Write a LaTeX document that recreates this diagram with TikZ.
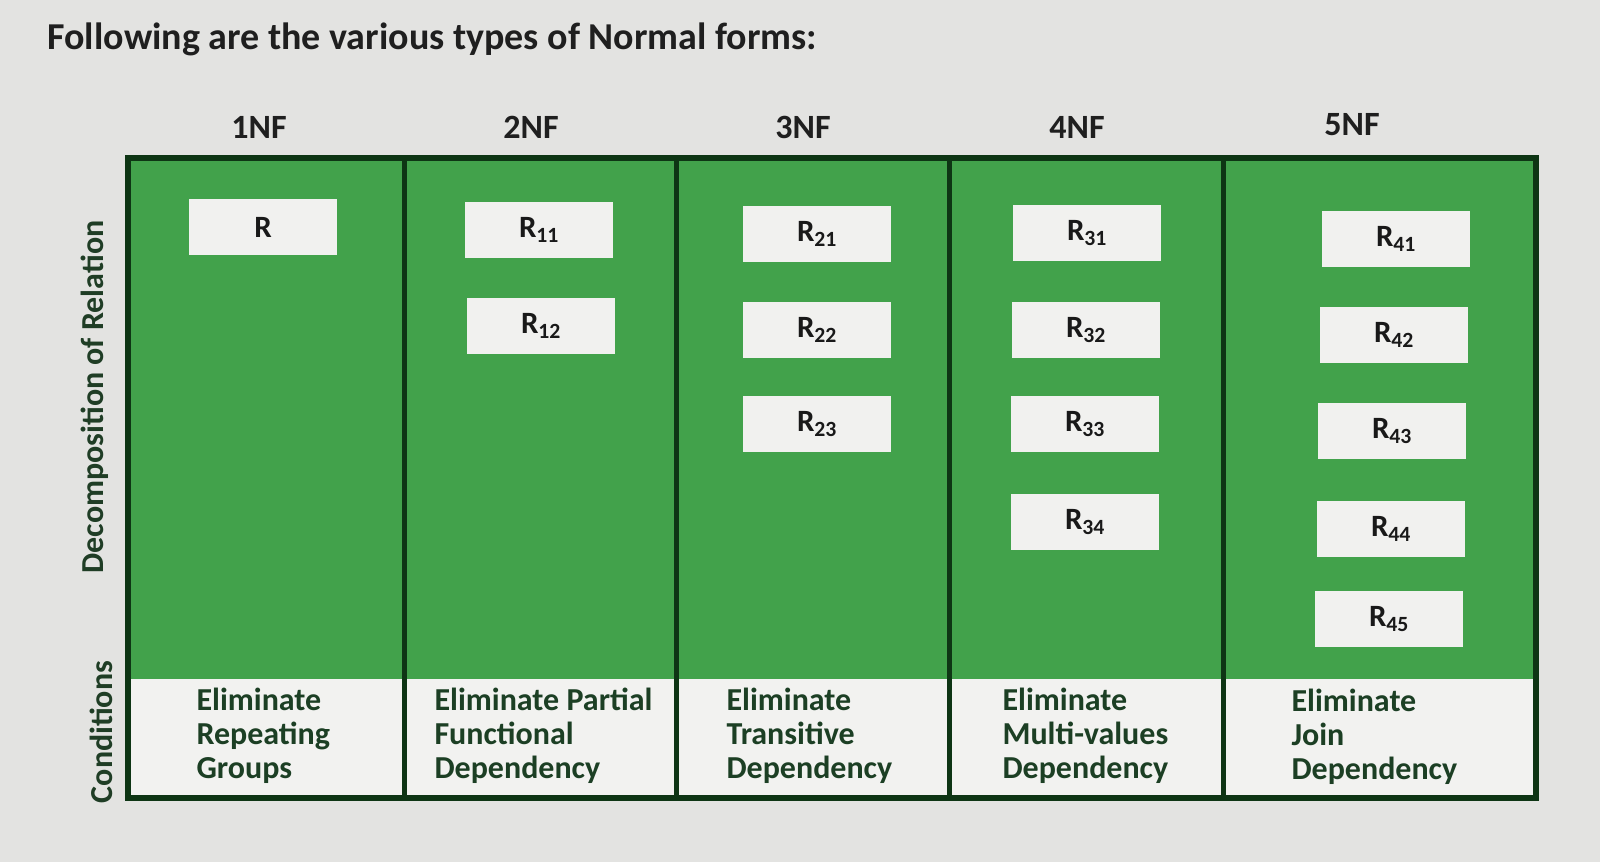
\documentclass[tikz,border=0pt]{standalone}
\usepackage{fontspec}
\setmainfont{Carlito}
\definecolor{bg}{HTML}{E3E3E1}
\definecolor{tgreen}{HTML}{42A24B}
\definecolor{cwhite}{HTML}{F2F2F0}
\definecolor{boxwhite}{HTML}{F1F1EF}
\definecolor{border}{HTML}{0E3514}
\definecolor{condtext}{HTML}{1C3F24}
\definecolor{sidetext}{HTML}{1F3D25}
\begin{document}
\begin{tikzpicture}[x=1pt,y=-1pt,
  rbox/.style={fill=boxwhite,minimum width=148pt,minimum height=56pt,inner sep=0pt,
    font=\fontsize{31}{32}\selectfont\bfseries,text=black!90},
  hdr/.style={font=\fontsize{34}{38}\selectfont\bfseries,text=black!88},
  cond/.style={anchor=west,align=left,font=\fontsize{32}{34}\selectfont\bfseries,text=condtext},
  side/.style={rotate=90,font=\fontsize{32}{34}\selectfont\bfseries,text=sidetext},
  rule/.style={line width=5pt,draw=border}]
\useasboundingbox (0,0) rectangle (1600,862);
\fill[bg] (0,0) rectangle (1600,862);
% title
\node[anchor=west,font=\fontsize{38}{42}\selectfont\bfseries,text=black!88] (title) at (44,39) {Following are the various types of Normal forms:};
% headers
\node[hdr] (h1) at (259,127) {1NF};
\node[hdr] (h2) at (531,127) {2NF};
\node[hdr] (h3) at (803,127) {3NF};
\node[hdr] (h4) at (1077,127) {4NF};
\node[hdr] (h5) at (1352,125) {5NF};
% table body
\fill[tgreen] (128,158) rectangle (1536,679);
\fill[cwhite] (128,679) rectangle (1536,798);
\draw[rule] (404,158) -- (404,798);
\draw[rule] (676,158) -- (676,798);
\draw[rule] (949,158) -- (949,798);
\draw[rule] (1223,158) -- (1223,798);
\draw[line width=6pt,draw=border] (128,158) rectangle (1536,798);
% side labels
\node[side] (dec) at (95,397) {Decomposition of Relation};
\node[side] (conds) at (101,732) {Conditions};
% relation boxes
\node[rbox] (r) at (263,227) {R};
\node[rbox] (r11) at (539,230) {R\textsubscript{11}};
\node[rbox] (r12) at (541,326) {R\textsubscript{12}};
\node[rbox] (r21) at (817,234) {R\textsubscript{21}};
\node[rbox] (r22) at (817,330) {R\textsubscript{22}};
\node[rbox] (r23) at (817,424) {R\textsubscript{23}};
\node[rbox] (r31) at (1087,233) {R\textsubscript{31}};
\node[rbox] (r32) at (1086,330) {R\textsubscript{32}};
\node[rbox] (r33) at (1085,424) {R\textsubscript{33}};
\node[rbox] (r34) at (1085,522) {R\textsubscript{34}};
\node[rbox] (r41) at (1396,239) {R\textsubscript{41}};
\node[rbox] (r42) at (1394,335) {R\textsubscript{42}};
\node[rbox] (r43) at (1392,431) {R\textsubscript{43}};
\node[rbox] (r44) at (1391,529) {R\textsubscript{44}};
\node[rbox] (r45) at (1389,619) {R\textsubscript{45}};
% conditions
\node[cond] (c1) at (193,736) {Eliminate\\Repeating\\Groups};
\node[cond] (c2) at (431,736) {Eliminate Partial\\Functional\\Dependency};
\node[cond] (c3) at (723,736) {Eliminate\\Transitive\\Dependency};
\node[cond] (c4) at (999,736) {Eliminate\\Multi-values\\Dependency};
\node[cond] (c5) at (1288,737) {Eliminate\\Join\\Dependency};
\end{tikzpicture}
\end{document}
